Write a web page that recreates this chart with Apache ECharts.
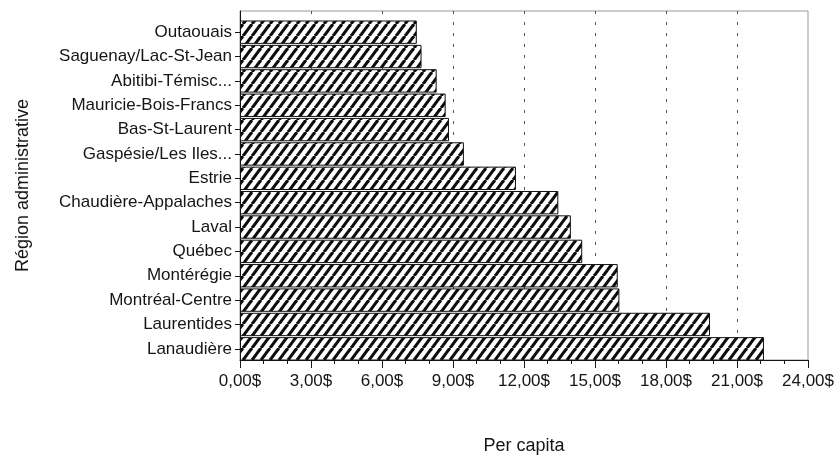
<!DOCTYPE html>
<html>
<head>
<meta charset="utf-8">
<script src="https://cdn.jsdelivr.net/npm/echarts@6/dist/echarts.min.js"></script>
<style>
  html, body { margin: 0; padding: 0; background: #fff; }
  #chart { width: 840px; height: 460px; }
</style>
</head>
<body>
<div id="chart"></div>
<script>
// Régions administratives, listed from top to bottom
const categories = [
  'Outaouais', 'Saguenay/Lac-St-Jean', 'Abitibi-Témisc...', 'Mauricie-Bois-Francs',
  'Bas-St-Laurent', 'Gaspésie/Les Iles...', 'Estrie', 'Chaudière-Appalaches',
  'Laval', 'Québec', 'Montérégie', 'Montréal-Centre', 'Laurentides', 'Lanaudière'
];
// Dollars per capita for each region
const perCapita = [
  7.47, 7.67, 8.31, 8.69, 8.83, 9.46, 11.66, 13.45,
  13.98, 14.46, 15.96, 16.03, 19.86, 22.14
];
// Value axis range and step
const axisMin = 0;
const axisMax = 24;
const axisStep = 3;

const FONT = '"Liberation Sans", Arial, sans-serif';
const INK = '#151515';

// Diagonal hatch tile used to fill the bars
function hatchTile() {
  const w = 9, h = 12;
  const c = document.createElement('canvas');
  c.width = w; c.height = h;
  const g = c.getContext('2d');
  g.fillStyle = '#ffffff';
  g.fillRect(0, 0, w, h);
  g.strokeStyle = '#0d0d0d';
  g.lineWidth = 3.1;
  for (let k = -1; k <= 1; k++) {
    g.beginPath();
    g.moveTo(k * w, h);
    g.lineTo(k * w + w, 0);
    g.stroke();
  }
  return c;
}

function money(v) {
  return v.toFixed(2).replace('.', ',') + '$';
}

const chart = echarts.init(document.getElementById('chart'), null, { renderer: 'canvas' });

chart.setOption({
  animation: false,
  backgroundColor: '#ffffff',
  grid: [
    { left: 240, width: 568, top: 11, height: 353, show: true,
      borderColor: '#9a9a9a', borderWidth: 1, backgroundColor: 'transparent' },
    { left: 240, width: 568, top: 20, height: 341 }
  ],
  xAxis: [
    {
      gridIndex: 0, type: 'value', min: axisMin, max: axisMax, interval: axisStep,
      axisLine: { show: true, lineStyle: { color: INK, width: 1 } },
      axisTick: { show: true, length: 8, lineStyle: { color: INK } },
      minorTick: { show: true, splitNumber: 3, length: 4, lineStyle: { color: INK } },
      splitLine: { show: true, showMinLine: false, showMaxLine: false,
        lineStyle: { type: [3, 8], color: '#555', width: 1 } },
      axisLabel: { formatter: money, fontFamily: FONT, fontSize: 17, color: INK, margin: 13 },
      name: 'Per capita', nameLocation: 'middle', nameGap: 77,
      nameTextStyle: { fontFamily: FONT, fontSize: 18, color: INK }
    },
    { gridIndex: 1, type: 'value', min: axisMin, max: axisMax, show: false }
  ],
  yAxis: [
    {
      gridIndex: 0, type: 'value', min: 0, max: 1,
      axisLine: { show: true, lineStyle: { color: INK, width: 1 } },
      axisTick: { show: false }, axisLabel: { show: false }, splitLine: { show: false },
      name: 'Région administrative', nameLocation: 'middle', nameGap: 208, nameRotate: 90,
      nameTextStyle: { fontFamily: FONT, fontSize: 18, color: INK }
    },
    {
      gridIndex: 1, type: 'category', data: categories, inverse: true,
      axisLine: { show: false },
      axisTick: { show: true, alignWithLabel: true, length: 5, lineStyle: { color: INK } },
      axisLabel: { fontFamily: FONT, fontSize: 17, color: INK, margin: 8 }
    }
  ],
  series: [
    {
      type: 'bar', xAxisIndex: 1, yAxisIndex: 1,
      data: perCapita,
      barCategoryGap: '4%',
      itemStyle: {
        color: { image: hatchTile(), repeat: 'repeat' },
        borderColor: '#111', borderWidth: 1
      }
    }
  ]
});
</script>
</body>
</html>
